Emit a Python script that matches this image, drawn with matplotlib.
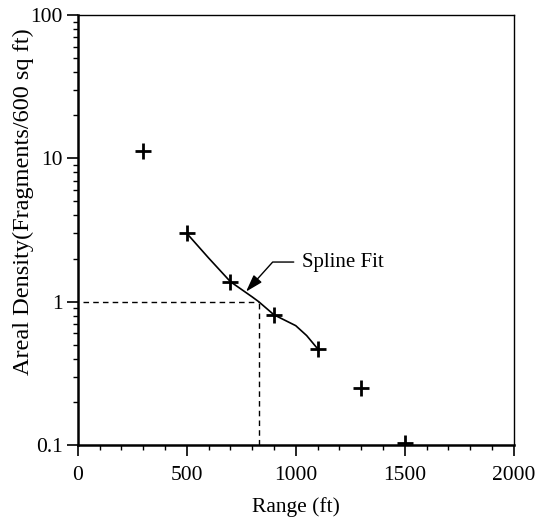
import numpy as np
import matplotlib.pyplot as plt
from matplotlib.ticker import MultipleLocator, LogLocator, FixedLocator, FixedFormatter

plt.rcParams['font.family'] = ['Liberation Serif', 'DejaVu Serif']

# measured data points
range_ft = [300, 500, 700, 900, 1100, 1300, 1500]
density = [11.2, 3.0, 1.38, 0.81, 0.47, 0.25, 0.104]

# spline fit curve
spline_x = [500, 600, 700, 800, 830, 900, 1000, 1050, 1100]
spline_y = [3.0, 2.02, 1.38, 1.08, 1.0, 0.81, 0.68, 0.58, 0.47]

# the 1 fragment/600 sq ft crossing
cross_x = 830
cross_y = 1.0

y_ticks = [0.1, 1, 10, 100]
y_labels = ['0.1', '1', '10', '100']
x_ticks = [0, 500, 1000, 1500, 2000]

fig = plt.figure(figsize=(5.39, 5.25), dpi=100)
ax = fig.add_axes([0.1442, 0.1524, 0.809, 0.819])

ax.plot(spline_x, spline_y, color='black', lw=1.2)
ax.plot(range_ft, density, ls='none', marker='+', ms=12, mew=2, color='black')

ax.plot([25, cross_x], [cross_y, cross_y], color='black', lw=1, ls=(0, (4, 3)))
ax.plot([cross_x, cross_x], [0.1, cross_y], color='black', lw=1, ls=(0, (4, 3)))

ax.annotate('Spline Fit', xy=(772, 1.175), xytext=(1029, 1.89),
            fontsize=15, ha='left', va='center',
            arrowprops=dict(arrowstyle='-|>,head_length=0.7,head_width=0.22',
                            connectionstyle='angle,angleA=0,angleB=48,rad=0',
                            color='black', lw=1, relpos=(0, 0.5),
                            shrinkA=4, shrinkB=0))

ax.set_yscale('log')
ax.set_xlim(0, 2000)
ax.set_ylim(0.1, 100)

ax.yaxis.set_major_locator(FixedLocator(y_ticks))
ax.yaxis.set_major_formatter(FixedFormatter(y_labels))
ax.yaxis.set_minor_locator(LogLocator(base=10, subs=np.arange(2, 10)))
ax.yaxis.set_minor_formatter(plt.NullFormatter())
ax.xaxis.set_major_locator(FixedLocator(x_ticks))
ax.xaxis.set_minor_locator(MultipleLocator(100))

ax.tick_params(which='major', direction='out', length=8, width=1.2, labelsize=15.5)
ax.tick_params(axis='x', which='major', pad=7)
ax.tick_params(axis='y', which='major', pad=3)
ax.tick_params(which='minor', direction='out', length=3.5, width=1)

for side in ['left', 'bottom']:
    ax.spines[side].set_linewidth(1.8)
for side in ['top', 'right']:
    ax.spines[side].set_linewidth(1.0)

ax.set_xlabel('Range (ft)', fontsize=15.5, labelpad=9)
ax.set_ylabel('Areal Density(Fragments/600 sq ft)', fontsize=17.5)
ax.yaxis.set_label_coords(-0.10, 0.567)

fig.savefig('out.png', dpi=100)
